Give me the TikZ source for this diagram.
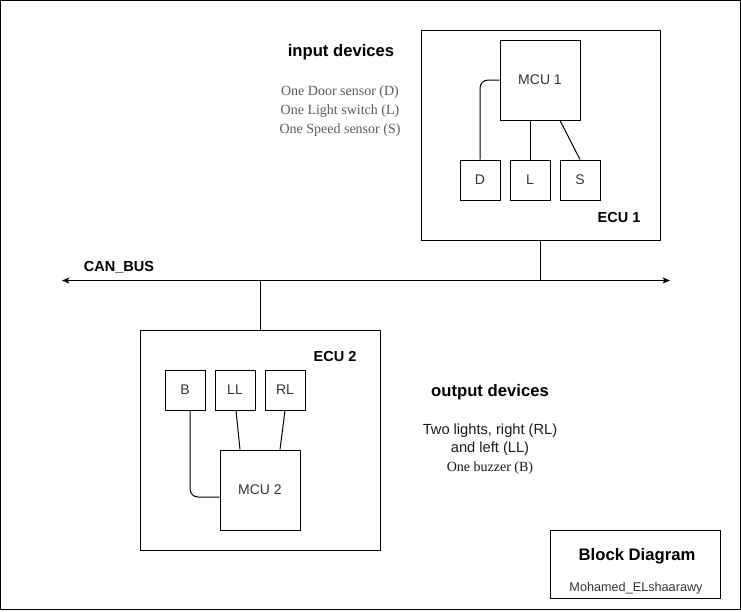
\documentclass[tikz,border=0pt]{standalone}
\usepackage{fontspec}
\setmainfont{Liberation Sans}
\newfontfamily\timesfont{Liberation Serif}
\usepackage{tikz}
\usetikzlibrary{arrows.meta}
\usetikzlibrary{calc}
\usepackage{xcolor}
\definecolor{boxtext}{RGB}{51,51,51}
\definecolor{listgray}{RGB}{90,90,90}
\definecolor{darktext}{RGB}{26,26,26}

\tikzset{
  unitbox/.style={draw, line width=0.75pt, inner sep=0pt, minimum width=30pt, minimum height=30pt, text=boxtext, font=\fontsize{10.5}{12}\selectfont},
  mcubox/.style={unitbox, minimum width=60pt, minimum height=60pt},
  ecubox/.style={draw, line width=0.75pt, inner sep=0pt},
  wire/.style={line width=0.75pt, color=black},
  buswire/.style={wire, {Stealth[length=5.5pt,width=4.5pt,inset=1.3pt]}-{Stealth[length=5.5pt,width=4.5pt,inset=1.3pt]}},
  boldlabel/.style={inner sep=0pt, font=\bfseries\fontsize{10.9}{12}\selectfont},
  heading/.style={inner sep=0pt, font=\bfseries\fontsize{12.5}{14}\selectfont},
}

\begin{document}
\begin{tikzpicture}[x=0.75pt,y=0.75pt,yscale=-1,xscale=1]
\useasboundingbox (0,0) rectangle (741,611);

%Shape: Rectangle [frame]
\draw [line width=0.75pt] (0.5,0.5) rectangle (740,609);

%Shape: Rectangle [ECU 1]
\node [ecubox, minimum width=179.25pt, minimum height=157.5pt] (ecu1) at (540.5,135) {};
%Shape: Rectangle [ECU 2]
\node [ecubox, minimum width=180pt, minimum height=165pt] (ecu2) at (260,440) {};
%Shape: Rectangle [title box]
\node [ecubox, minimum width=127.5pt, minimum height=51pt] (title) at (635,564) {};

%Shape: Square [MCU 1]
\node [mcubox] (mcu1) at (540,80) {MCU 1};
%Shape: Square [inputs]
\node [unitbox] (door) at (480,180) {D};
\node [unitbox] (light) at (530,180) {L};
\node [unitbox] (speed) at (580,180) {S};

%Shape: Square [MCU 2]
\node [mcubox] (mcu2) at (260,490) {MCU 2};
%Shape: Square [outputs]
\node [unitbox] (buzzer) at (185,390) {B};
\node [unitbox] (leftl) at (235,390) {LL};
\node [unitbox] (rightl) at (285,390) {RL};

%Straight Lines [ECU 1 wires]
\draw [wire, rounded corners=6] (mcu1.west) -| (door.north);
\draw [wire] (light.north) -- (light.north |- mcu1.south);
\draw [wire] ($(mcu1.south)+(20,0)$) -- (speed.north);

%Straight Lines [ECU 2 wires]
\draw [wire, rounded corners=6] ($(buzzer.south)+(5,0)$) |- ($(mcu2.west)+(0,7)$);
\draw [wire] ($(leftl.south)+(1,0)$) -- ($(mcu2.north)+(-20,0)$);
\draw [wire] (rightl.south) -- ($(mcu2.north)+(20,0)$);

%Straight Lines [CAN bus]
\coordinate (busL) at (62,280.5);
\coordinate (busR) at (670,280.5);
\draw [buswire] (busL) -- (busR);
\draw [wire] (ecu1.south) -- (ecu1.south |- busL);
\draw [wire] (ecu2.north) -- (ecu2.north |- busL);

% Text Node
\node [boldlabel] (canlabel) at (119,267) {CAN\_BUS};
% Text Node
\node [boldlabel] (ecu1label) at (619,217) {ECU 1};
% Text Node
\node [boldlabel] (ecu2label) at (335,356) {ECU 2};
% Text Node
\node [heading] (inhead) at (341,52) {input devices};
% Text Node
\node [inner sep=0pt, align=center, text=listgray, font=\timesfont\fontsize{10.5}{14.25}\selectfont] (inlist) at (340,111) {One Door sensor (D)\\One Light switch (L)\\One Speed sensor (S)};
% Text Node
\node [heading] (outhead) at (490,392) {output devices};
% Text Node
\node [inner sep=0pt, align=center, text=darktext, font=\fontsize{11}{14}\selectfont] (outlist) at (490,449) {Two lights, right (RL)\\and left (LL)\\{\timesfont\fontsize{10.5}{14}\selectfont One buzzer (B)}};
% Text Node
\node [heading] (titletext) at (637,556) {Block Diagram};
% Text Node
\node [inner sep=0pt, text=boxtext, font=\fontsize{9.5}{11}\selectfont] (author) at (636,588) {Mohamed\_ELshaarawy};

\end{tikzpicture}
\end{document}
